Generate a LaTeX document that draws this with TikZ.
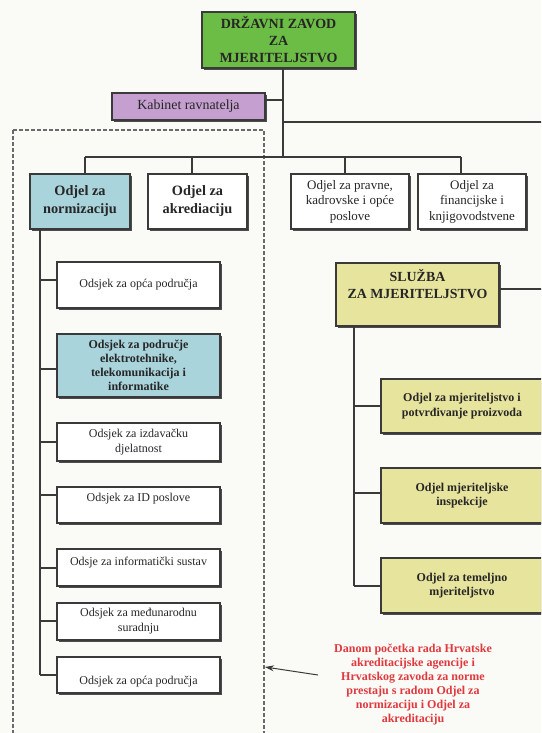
\documentclass[tikz,border=0pt]{standalone}
\usepackage{fontspec}
\setmainfont{Liberation Serif}
\usetikzlibrary{shadows,arrows.meta}
\definecolor{bgc}{HTML}{FAFAF7}
\definecolor{grc}{HTML}{6CBD45}
\definecolor{puc}{HTML}{C49FCF}
\definecolor{tec}{HTML}{A9D4DB}
\definecolor{yec}{HTML}{E7E49D}
\definecolor{lnc}{HTML}{3A3A3A}
\definecolor{dsc}{HTML}{6A6A6A}
\definecolor{rdc}{HTML}{E0393E}
\newcommand\myfs[2]{\fontsize{#1}{#2}\selectfont}
\begin{document}
\begin{tikzpicture}[x=1pt,y=-1pt,
  box/.style={draw=lnc, line width=1.1pt, rectangle, inner sep=0pt, align=center,
    text=black!85, fill=white,
    drop shadow={shadow xshift=1.8pt, shadow yshift=-1.8pt, fill=black!70, opacity=1}},
  txt/.style={align=center, text=black!85, inner sep=0pt},
  conn/.style={draw=lnc, line width=1.1pt},
  dashbox/.style={draw=dsc, line width=1.1pt, dash pattern=on 4pt off 2pt},
  regtext/.style={font=\myfs{12}{15}},
  boldtext/.style={font=\bfseries\myfs{14.3}{18}},
  yeltext/.style={font=\bfseries\myfs{12}{14.3}},
]
\useasboundingbox (0,0) rectangle (541,733);
\clip (0,0) rectangle (541,733);
\fill[bgc] (0,0) rectangle (541,733);

% dashed frame
\draw[dashbox] (13,130) rectangle (264,745);

% top level
\node[box, fill=grc, minimum width=153pt, minimum height=56pt, font=\bfseries\myfs{14}{17}] (top) at (278.5,40) {DRŽAVNI ZAVOD\\ZA\\MJERITELJSTVO};
\node[box, fill=puc, minimum width=153pt, minimum height=27pt, font=\myfs{13.9}{15}] (kab) at (188.5,106.5) {Kabinet ravnatelja};

% second row
\node[box, fill=tec, minimum width=100pt, minimum height=55pt, boldtext] (norm) at (80,201.5) {Odjel za\\normizaciju};
\node[box, minimum width=99pt, minimum height=55pt, boldtext] (akr) at (197.5,201.5) {Odjel za\\akrediaciju};
\node[box, minimum width=118pt, minimum height=55pt, font=\myfs{13}{15.5}] (prav) at (350,201.5) {Odjel za pravne,\\kadrovske i opće\\poslove};
\node[box, minimum width=108pt, minimum height=55pt, font=\myfs{13}{15.5}] (fin) at (472,201.5) {Odjel za\\financijske i\\knjigovodstvene};

% left column
\node[box, minimum width=163pt, minimum height=46pt, regtext] (b1) at (138.5,285) {Odsjek za opća područja};
\node[box, fill=tec, minimum width=163pt, minimum height=63pt, font=\bfseries\myfs{12}{13.8}] (b2) at (138.5,365.5) {Odsjek za područje\\elektrotehnike,\\telekomunikacija i\\informatike};
\node[box, minimum width=163pt, minimum height=38pt, regtext] (b3) at (138.5,442) {Odsjek za izdavačku\\djelatnost};
\node[box, minimum width=163pt, minimum height=36pt] (b4) at (138.5,505) {};
\node[txt, regtext] (t4) at ([yshift=6pt]b4.center) {Odsjek za ID poslove};
\node[box, minimum width=163pt, minimum height=37pt] (b5) at (138.5,567.5) {};
\node[txt, regtext] (t5) at ([yshift=5pt]b5.center) {Odsje za informatički sustav};
\node[box, minimum width=163pt, minimum height=37pt, regtext] (b6) at (138.5,621.5) {Odsjek za međunarodnu\\suradnju};
\node[box, minimum width=163pt, minimum height=36pt] (b7) at (138.5,675) {};
\node[txt, regtext] (t7) at ([yshift=-7pt]b7.center) {Odsjek za opća područja};

% sluzba
\node[box, fill=yec, minimum width=163pt, minimum height=63pt] (slu) at (417.5,294.5) {};
\node[txt, font=\bfseries\myfs{13.9}{17}] (tslu) at ([yshift=10pt]slu.center) {SLUŽBA\\ZA MJERITELJSTVO};
\node[box, fill=yec, minimum width=162pt, minimum height=54pt, yeltext] (y1) at (462,406) {Odjel za mjeriteljstvo i\\potvrđivanje proizvoda};
\node[box, fill=yec, minimum width=162pt, minimum height=55pt, yeltext] (y2) at (462,495.5) {Odjel mjeriteljske\\inspekcije};
\node[box, fill=yec, minimum width=162pt, minimum height=55pt, yeltext] (y3) at (462,585.5) {Odjel za temeljno\\mjeriteljstvo};

% connectors: top trunk
\coordinate (tj) at (283,157);
\coordinate (tk) at (283,100);
\coordinate (tr) at (283,122);
\coordinate (er1) at (545,122);
\draw[conn] (top.south -| tj) -- (tj);
\draw[conn] (kab.east |- tk) -- (tk);
\draw[conn] (tr) -- (er1);
\coordinate (d1) at (85,157);
\coordinate (d2) at (192,157);
\coordinate (d3) at (345,157);
\coordinate (d4) at (461,157);
\draw[conn] (d1) -- (d4);
\draw[conn] (d1) -- (d1 |- norm.north);
\draw[conn] (d2) -- (d2 |- akr.north);
\draw[conn] (d3) -- (d3 |- prav.north);
\draw[conn] (d4) -- (d4 |- fin.north);

% left trunk
\coordinate (lt) at (40,229);
\coordinate (lb) at (40,675);
\draw[conn] (norm.south -| lt) -- (lb);
\foreach \b/\yy in {b1/280,b2/369,b3/442,b4/495,b5/568,b6/621,b7/675}{
  \draw[conn] (40,\yy) -- (\b.west |- 0,\yy);
}

% sluzba trunk
\coordinate (st) at (354,326);
\coordinate (sb) at (354,586);
\coordinate (er2) at (545,289);
\draw[conn] (slu.east |- er2) -- (er2);
\draw[conn] (slu.south -| st) -- (sb);
\draw[conn] (354,406) -- (y1.west |- 0,406);
\draw[conn] (354,493) -- (y2.west |- 0,493);
\draw[conn] (354,586) -- (y3.west |- 0,586);

% note and arrow
\node[align=center, text=rdc, inner sep=0pt, font=\bfseries\myfs{12}{14}] (note) at (413,685) {Danom početka rada Hrvatske\\akreditacijske agencije i\\Hrvatskog zavoda za norme\\prestaju s radom Odjel za\\normizaciju i Odjel za\\akreditaciju};
\coordinate (as) at (318,675);
\coordinate (ae) at (265,667);
\draw[line width=1pt, draw=lnc, -{Stealth[length=9pt,width=6pt]}] (as) -- (ae);
\end{tikzpicture}
\end{document}
